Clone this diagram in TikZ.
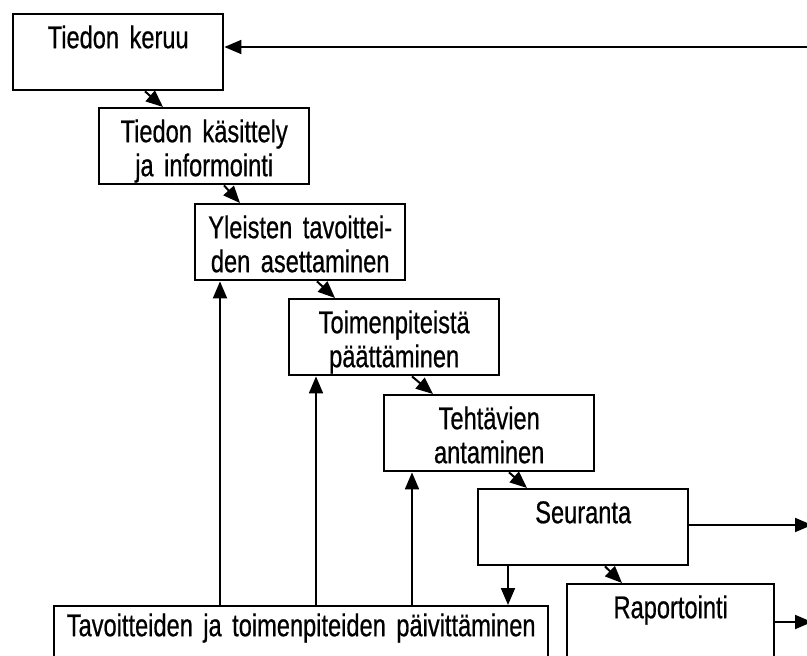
\documentclass[tikz,border=0pt]{standalone}
\usepackage{fontspec}
\setmainfont{Liberation Sans}[FakeStretch=0.75, FakeBold=0.6, WordSpace=0.75]
\usetikzlibrary{arrows.meta}

\begin{document}
\begin{tikzpicture}[x=1pt, y=-1pt,
    laatikko/.style={draw, line width=2.4pt, anchor=north west, inner xsep=0pt, inner ysep=0pt,
      text width=210pt, align=center, text height=34pt, text depth=42pt,
      font=\fontsize{31.5}{34}\selectfont},
    nuoli/.style={-{Triangle[length=17pt, width=14pt]}, line width=2pt}]
        \clip (0,0) rectangle (807,656);

        \node (keruu) at (12,13)[laatikko] {Tiedon keruu};
        \node (kasittely) at (98,107)[laatikko] {Tiedon käsittely\\ja informointi};
        \node (asettaminen) at (194,203)[laatikko] {Yleisten tavoittei-\\den asettaminen};
        \node (paattaminen) at (288,298)[laatikko] {Toimenpiteistä\\päättäminen};
        \node (antaminen) at (383,394)[laatikko] {Tehtävien\\antaminen};
        \node (seuranta) at (477,488)[laatikko] {Seuranta};
        \node (raportointi) at (566,583)[laatikko, text width=207pt] {Raportointi};
        \node (paivitys) at (53,605)[laatikko, text width=494pt, text height=30pt] {Tavoitteiden ja toimenpiteiden päivittäminen};

        \coordinate (paluu) at (807,47);
        \coordinate (ulos1) at (812,525);
        \coordinate (ulos2) at (812,622);

        % portaat alaspain
        \draw[nuoli] ([xshift=133pt]keruu.south west) -- ([xshift=65pt]kasittely.north west);
        \draw[nuoli] ([xshift=126pt]kasittely.south west) -- ([xshift=46pt]asettaminen.north west);
        \draw[nuoli] ([xshift=123pt]asettaminen.south west) -- ([xshift=47pt]paattaminen.north west);
        \draw[nuoli] ([xshift=124pt]paattaminen.south west) -- ([xshift=50pt]antaminen.north west);
        \draw[nuoli] ([xshift=126pt]antaminen.south west) -- ([xshift=50pt]seuranta.north west);
        \draw[nuoli] ([xshift=128pt]seuranta.south west) -- ([xshift=56pt]raportointi.north west);

        % paluu ja ulos
        \draw[nuoli] (paluu) -- (paluu -| keruu.east);
        \draw[nuoli] (seuranta.east |- ulos1) -- (ulos1);
        \draw[nuoli] (raportointi.east |- ulos2) -- (ulos2);

        % paivitys
        \draw[nuoli] (508,0 |- seuranta.south) -- (508,0 |- paivitys.north);
        \foreach \kohde/\x in {asettaminen/220, paattaminen/316, antaminen/412}
            \draw[nuoli] (\x,0 |- paivitys.north) -- (\x,0 |- \kohde.south);

    \end{tikzpicture}
\end{document}
